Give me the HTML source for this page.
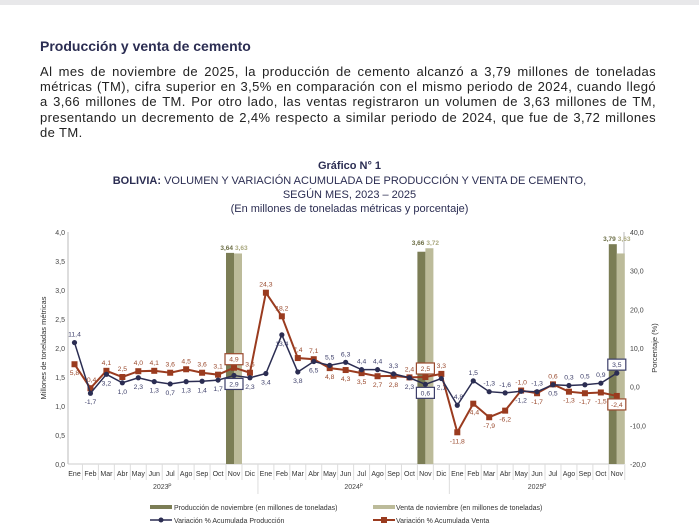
<!DOCTYPE html>
<html><head><meta charset="utf-8">
<style>
body{margin:0;width:699px;height:524px;background:#fff;font-family:"Liberation Sans",sans-serif;position:relative;overflow:hidden;color:#222}
#topbar{position:absolute;left:0;top:0;width:699px;height:5px;background:#e8e8ea}
h1{position:absolute;left:40px;top:38px;margin:0;font-size:14px;font-weight:bold;color:#2b2d52}
#para{position:absolute;left:40px;top:64px;width:616px;margin:0;font-size:13px;letter-spacing:0.4px;line-height:15.2px;text-align:justify;color:#222}
.ct{position:absolute;left:0;width:699px;text-align:center;font-size:11px;color:#2b2d52;margin:0}
svg{position:absolute;left:0;top:0}
</style></head><body>
<div id="topbar"></div>
<h1>Producción y venta de cemento</h1>
<p id="para">Al mes de noviembre de 2025, la producción de cemento alcanzó a 3,79 millones de toneladas métricas (TM), cifra superior en 3,5% en comparación con el mismo periodo de 2024, cuando llegó a 3,66 millones de TM. Por otro lado, las ventas registraron un volumen de 3,63 millones de TM, presentando un decremento de 2,4% respecto a similar periodo de 2024, que fue de 3,72 millones de TM.</p>
<p class="ct" style="top:160px;font-weight:bold">Gráfico N° 1</p>
<p class="ct" style="top:175px"><b>BOLIVIA:</b> VOLUMEN Y VARIACIÓN ACUMULADA DE PRODUCCIÓN Y VENTA DE CEMENTO,</p>
<p class="ct" style="top:189px">SEGÚN MES, 2023 – 2025</p>
<p class="ct" style="top:203px">(En millones de toneladas métricas y porcentaje)</p>
<svg id="chart" width="699" height="524"></svg>
<script>
const months=["Ene","Feb","Mar","Abr","May","Jun","Jul","Ago","Sep","Oct","Nov","Dic","Ene","Feb","Mar","Abr","May","Jun","Jul","Ago","Sep","Oct","Nov","Dic","Ene","Feb","Mar","Abr","May","Jun","Jul","Ago","Sep","Oct","Nov"];
const years=["2023","2024","2025"];
const prodVar=[11.4,-1.7,3.2,1.0,2.3,1.3,0.7,1.3,1.4,1.7,2.9,2.3,3.4,13.4,3.8,6.5,5.5,6.3,4.4,4.4,3.3,2.3,0.6,2.1,-4.8,1.5,-1.3,-1.6,-1.2,-1.3,0.5,0.3,0.5,0.9,3.5];
const ventVar=[5.8,-0.4,4.1,2.5,4.0,4.1,3.6,4.5,3.6,3.1,4.9,3.6,24.3,18.2,7.4,7.1,4.8,4.3,3.5,2.7,2.8,2.4,2.5,3.3,-11.8,-4.4,-7.9,-6.2,-1.0,-1.7,0.6,-1.3,-1.7,-1.5,-2.4];
const barIdx=[10,22,34];
const prodNov=[3.64,3.66,3.79];
const ventNov=[3.63,3.72,3.63];
const leftTicks=[0,0.5,1,1.5,2,2.5,3,3.5,4];
const rightTicks=[-20,-10,0,10,20,30,40];

const S=document.getElementById('chart'),NS='http://www.w3.org/2000/svg';
const X0=68,X1=624,YT=232,YB=464;
const xs=i=>74.5+i*15.95;
const yl=v=>YB-(v/4)*(YB-YT);
const yr=v=>YB-((v+20)/60)*(YB-YT);
const fmt=v=>v.toFixed(1).replace('.',',');
function mk(t,a,txt){const e=document.createElementNS(NS,t);for(const k in a)e.setAttribute(k,a[k]);if(txt!=null)e.textContent=txt;S.appendChild(e);return e;}
let e;
e=mk('line',{x1:X0,y1:YT,x2:X0,y2:YB,stroke:'#bbb'});

e=mk('line',{x1:X1,y1:YT,x2:X1,y2:YB,stroke:'#bbb'});

e=mk('line',{x1:X0,y1:YB,x2:X1,y2:YB,stroke:'#ccc'});

leftTicks.forEach(v=>{e=mk('text',{x:X0-3,y:yl(v)+3,'font-size':7,'text-anchor':'end',fill:'#444'},fmt(v));
});
rightTicks.forEach(v=>{e=mk('text',{x:X1+6,y:yr(v)+3,'font-size':7,fill:'#444'},fmt(v));
});
e=mk('text',{x:0,y:0,'font-size':7.5,fill:'#333','text-anchor':'middle',transform:`translate(46,${(YT+YB)/2}) rotate(-90)`},'Millones de toneladas métricas');

e=mk('text',{x:0,y:0,'font-size':7.5,fill:'#333','text-anchor':'middle',transform:`translate(657,348) rotate(-90)`},'Porcentaje (%)');

months.forEach((m,i)=>{const x=xs(i);
e=mk('text',{x:x,y:476,'font-size':7,'text-anchor':'middle',fill:'#333'},m);

e=mk('line',{x1:x+7.97,y1:YB,x2:x+7.97,y2:480,stroke:'#ddd'});
});
years.forEach((y,k)=>{const a=k*12,b=Math.min(a+11,months.length-1);const xm=(xs(a)+xs(b))/2;
e=mk('text',{x:xm,y:489,'font-size':7,'text-anchor':'middle',fill:'#444'},y+'ᴾ');

if(k>0){e=mk('line',{x1:xs(a)-7.97,y1:YB,x2:xs(a)-7.97,y2:494,stroke:'#ddd'});
}});
barIdx.forEach((idx,k)=>{const x=xs(idx);
e=mk('rect',{x:x-8,y:yl(prodNov[k]),width:8,height:YB-yl(prodNov[k]),fill:'#7b7d55'});

e=mk('rect',{x:x,y:yl(ventNov[k]),width:8,height:YB-yl(ventNov[k]),fill:'#bcbb9a'});

e=mk('text',{x:x-1,y:yl(Math.max(prodNov[k],ventNov[k]))-3,'font-size':6.5,'font-weight':'bold','text-anchor':'end',fill:'#6b6d45'},prodNov[k].toFixed(2).replace('.',','));

e=mk('text',{x:x+1,y:yl(Math.max(prodNov[k],ventNov[k]))-3,'font-size':6.5,'font-weight':'bold','text-anchor':'start',fill:'#a9a77e'},ventNov[k].toFixed(2).replace('.',','));
});
function series(vals,color,name,square){
 e=mk('polyline',{points:vals.map((v,i)=>xs(i)+','+yr(v)).join(' '),fill:'none',stroke:color,'stroke-width':square?2:1.5});
 
 vals.forEach((v,i)=>{
  if(square){e=mk('rect',{x:xs(i)-3,y:yr(v)-3,width:6,height:6,fill:color});}
  else{e=mk('circle',{cx:xs(i),cy:yr(v),r:2.6,fill:color});}
  });
}
series(ventVar,'#9a3b1f','sales-variation',true);
series(prodVar,'#2b2d52','production-variation',false);
function labels(vals,other,color,name){
 vals.forEach((v,i)=>{const above=v>other[i]||(v===other[i]&&name==='sales');
  const y=above?yr(v)-6:yr(v)+11;const boxed=barIdx.includes(i);
  if(boxed){e=mk('rect',{x:xs(i)-9,y:y-8,width:18,height:11,fill:'#fff',stroke:color,'stroke-width':1.2});
   }
  e=mk('text',{x:xs(i),y:y,'font-size':6.8,'text-anchor':'middle',fill:color},fmt(v));
  });
}
labels(prodVar,ventVar,'#3d3f6a','production');
labels(ventVar,prodVar,'#9a4a2e','sales');
e=mk('rect',{x:150,y:505,width:22,height:4,fill:'#7b7d55'});

e=mk('text',{x:174,y:510,'font-size':7,fill:'#333'},'Producción de noviembre (en millones de toneladas)');

e=mk('rect',{x:373,y:505,width:22,height:4,fill:'#bcbb9a'});

e=mk('text',{x:396,y:510,'font-size':7,fill:'#333'},'Venta de noviembre (en millones de toneladas)');

e=mk('line',{x1:150,y1:520,x2:172,y2:520,stroke:'#2b2d52','stroke-width':1.5});

e=mk('circle',{cx:161,cy:520,r:2.5,fill:'#2b2d52'});

e=mk('text',{x:174,y:523,'font-size':7,fill:'#333'},'Variación % Acumulada Producción');

e=mk('line',{x1:373,y1:520,x2:395,y2:520,stroke:'#9a3b1f','stroke-width':2});

e=mk('rect',{x:381,y:517,width:6,height:6,fill:'#9a3b1f'});

e=mk('text',{x:396,y:523,'font-size':7,fill:'#333'},'Variación % Acumulada Venta');

</script>
</body></html>
